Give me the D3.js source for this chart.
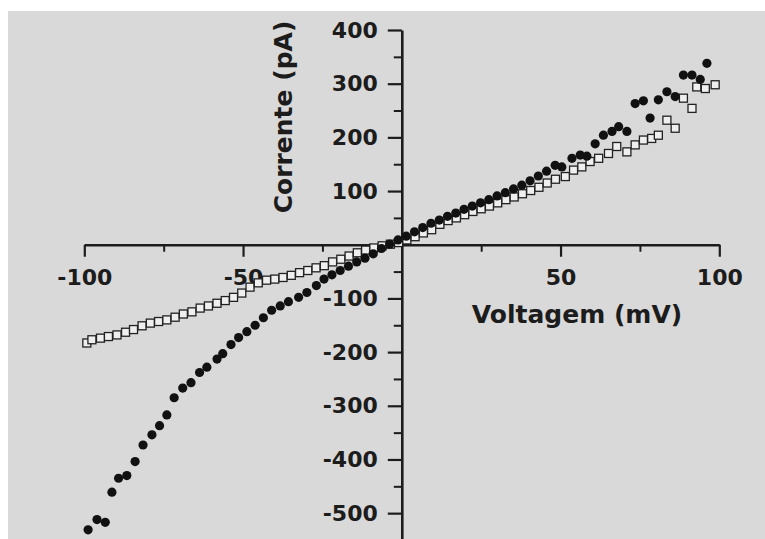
<!DOCTYPE html>
<html>
<head>
<meta charset="utf-8">
<script src="https://cdn.jsdelivr.net/npm/d3@7"></script>
<style>
  body { margin: 0; background: #fff; }
  .axis path, .axis line { stroke: #1c1c1c; }
  .axis text { font-family: "DejaVu Sans", sans-serif; font-weight: bold; fill: #1c1c1c; }
</style>
</head>
<body>
<div id="chart"></div>
<script>
// Filled circles: voltage (mV) and current (pA)
var filledV = [-98.8,-96.0,-93.4,-91.3,-89.2,-86.6,-84.0,-81.5,-78.7,-76.3,-74.0,-71.7,-69.0,-66.4,-63.7,-61.4,-58.2,-56.4,-53.8,-51.4,
    -48.8,-46.2,-43.6,-41.0,-38.3,-35.7,-32.5,-29.9,-26.9,-24.5,-22.0,-19.4,-16.8,-14.2,-11.6,-9.0,-6.4,-3.8,-1.2,
    1.4,4.0,6.6,9.2,11.8,14.4,17.0,19.6,22.2,24.8,27.4,30.0,32.6,35.2,37.8,40.4,43.0,45.6,48.3,50.4,
    53.6,56.2,58.3,60.9,63.5,66.2,68.3,70.9,73.5,76.1,78.2,80.8,83.5,86.1,88.7,91.4,94.0,96.1];
var filledI = [-531,-512,-517,-461,-435,-430,-404,-373,-354,-337,-317,-285,-267,-257,-238,-228,-213,-203,-186,-173,
    -162,-150,-136,-122,-114,-106,-98,-89,-76,-64,-56,-48,-40,-32,-25,-17,-7,1,9,
    16,24,32,40,46,53,59,66,72,78,84,91,97,104,111,119,128,137,148,145,
    161,167,165,188,204,211,220,211,263,268,236,270,285,276,316,316,308,338];

// Open squares
var squareV = [-99.2,-97.6,-94.9,-92.4,-89.7,-87.0,-84.5,-81.8,-79.2,-76.6,-74.0,-71.4,-68.8,-66.1,-63.5,-60.9,-58.2,-55.6,-53.0,-50.4,
    -47.8,-45.2,-42.6,-40.0,-37.4,-34.8,-32.2,-29.6,-27.0,-24.4,-21.8,-19.2,-16.6,-14.0,-11.4,-8.8,-6.2,-3.6,-1.0,
    1.6,4.2,6.8,9.4,12.0,14.6,17.2,19.8,22.4,25.0,27.6,30.2,32.8,35.4,38.0,40.6,43.2,45.8,48.4,
    51.5,54.1,56.7,59.3,62.0,65.1,67.7,70.9,73.5,76.1,78.7,80.8,83.5,86.1,88.7,91.4,92.9,95.6,98.7];
var squareI = [-183,-177,-174,-171,-168,-163,-158,-151,-146,-143,-140,-135,-129,-125,-118,-114,-109,-104,-98,-90,
    -79,-71,-66,-64,-61,-57,-52,-48,-43,-39,-32,-27,-21,-15,-10,-6,-2,1,4,
    9,15,22,28,38,45,50,56,62,67,72,78,84,89,95,101,107,115,122,
    127,139,145,155,161,170,183,173,186,195,198,204,232,217,273,254,294,291,298];

var xTicks = [-100, -50, 50, 100];
var xMinorTicks = [-75, -25, 25, 75];
var yTicks = [400, 300, 200, 100, -100, -200, -300, -400, -500];
var yMinorTicks = [350, 250, 150, 50, -50, -150, -250, -350, -450, -550];

var filledData = filledV.map(function(v, i){ return { x: v, y: filledI[i] }; });
var squareData = squareV.map(function(v, i){ return { x: v, y: squareI[i] }; });

// plain hyphen for negatives, like the printed figure
var plainNum = function(d){ return String(d); };

IVChart = function(_parentElement){
    this.parentElement = _parentElement;
    this.initVis();
};

IVChart.prototype.initVis = function(){
    var vis = this;

    vis.width = 765;
    vis.height = 539;

    vis.svg = d3.select(vis.parentElement)
        .append("svg")
        .attr("width", vis.width)
        .attr("height", vis.height);

    // scanned page background
    vis.svg.append("rect")
        .attr("x", 8).attr("y", 11)
        .attr("width", vis.width - 8).attr("height", vis.height - 11)
        .attr("fill", "#d9d9d9");

    vis.x = d3.scaleLinear().domain([-100, 100]).range([84.3, 719.3]);
    vis.y = d3.scaleLinear().domain([-550, 400]).range([540, 30]);

    var x0 = vis.x(0), y0 = vis.y(0);

    // X axis
    vis.svg.append("g")
        .attr("class", "axis")
        .attr("transform", "translate(0," + y0 + ")")
        .call(d3.axisBottom(vis.x).tickValues(xMinorTicks).tickSize(7).tickSizeOuter(0).tickFormat(""))
        .call(function(g){ g.select(".domain").remove(); })
        .selectAll("line").attr("stroke-width", 2);

    vis.xAxis = vis.svg.append("g")
        .attr("class", "axis")
        .attr("transform", "translate(0," + y0 + ")")
        .call(d3.axisBottom(vis.x).tickValues(xTicks).tickSize(12).tickSizeOuter(0).tickPadding(13).tickFormat(plainNum));
    vis.xAxis.select(".domain").attr("stroke-width", 2.6);
    vis.xAxis.selectAll("line").attr("stroke-width", 2.2);
    vis.xAxis.selectAll("text").attr("font-size", "22px");

    // Y axis
    vis.svg.append("g")
        .attr("class", "axis")
        .attr("transform", "translate(" + x0 + ",0)")
        .call(d3.axisLeft(vis.y).tickValues(yMinorTicks).tickSize(8).tickSizeOuter(0).tickFormat(""))
        .call(function(g){ g.select(".domain").remove(); })
        .selectAll("line").attr("stroke-width", 2);

    vis.yAxis = vis.svg.append("g")
        .attr("class", "axis")
        .attr("transform", "translate(" + x0 + ",0)")
        .call(d3.axisLeft(vis.y).tickValues(yTicks).tickSize(14).tickSizeOuter(0).tickPadding(10).tickFormat(plainNum));
    vis.yAxis.select(".domain").attr("stroke-width", 2.6);
    vis.yAxis.selectAll("line").attr("stroke-width", 2.2);
    vis.yAxis.selectAll("text").attr("font-size", "22px");

    // Axis titles
    vis.svg.append("text")
        .attr("x", 577)
        .attr("y", 323)
        .attr("text-anchor", "middle")
        .attr("font-family", "DejaVu Sans, sans-serif")
        .attr("font-weight", "bold")
        .attr("font-size", "25px")
        .attr("fill", "#1c1c1c")
        .text("Voltagem (mV)");

    vis.svg.append("text")
        .attr("transform", "translate(292,117) rotate(-90)")
        .attr("text-anchor", "middle")
        .attr("font-family", "DejaVu Sans, sans-serif")
        .attr("font-weight", "bold")
        .attr("font-size", "25px")
        .attr("fill", "#1c1c1c")
        .text("Corrente (pA)");

    vis.update();
};

IVChart.prototype.update = function(){
    var vis = this;
    var s = 8;

    vis.svg.append("g").selectAll("rect")
        .data(squareData)
        .enter().append("rect")
        .attr("x", function(d){ return vis.x(d.x) - s / 2; })
        .attr("y", function(d){ return vis.y(d.y) - s / 2; })
        .attr("width", s)
        .attr("height", s)
        .attr("fill", "#efefef")
        .attr("stroke", "#222")
        .attr("stroke-width", 1.3);

    vis.svg.append("g").selectAll("circle")
        .data(filledData)
        .enter().append("circle")
        .attr("cx", function(d){ return vis.x(d.x); })
        .attr("cy", function(d){ return vis.y(d.y); })
        .attr("r", 4.6)
        .attr("fill", "#111");
};

var chart = new IVChart("#chart");
</script>
</body>
</html>
